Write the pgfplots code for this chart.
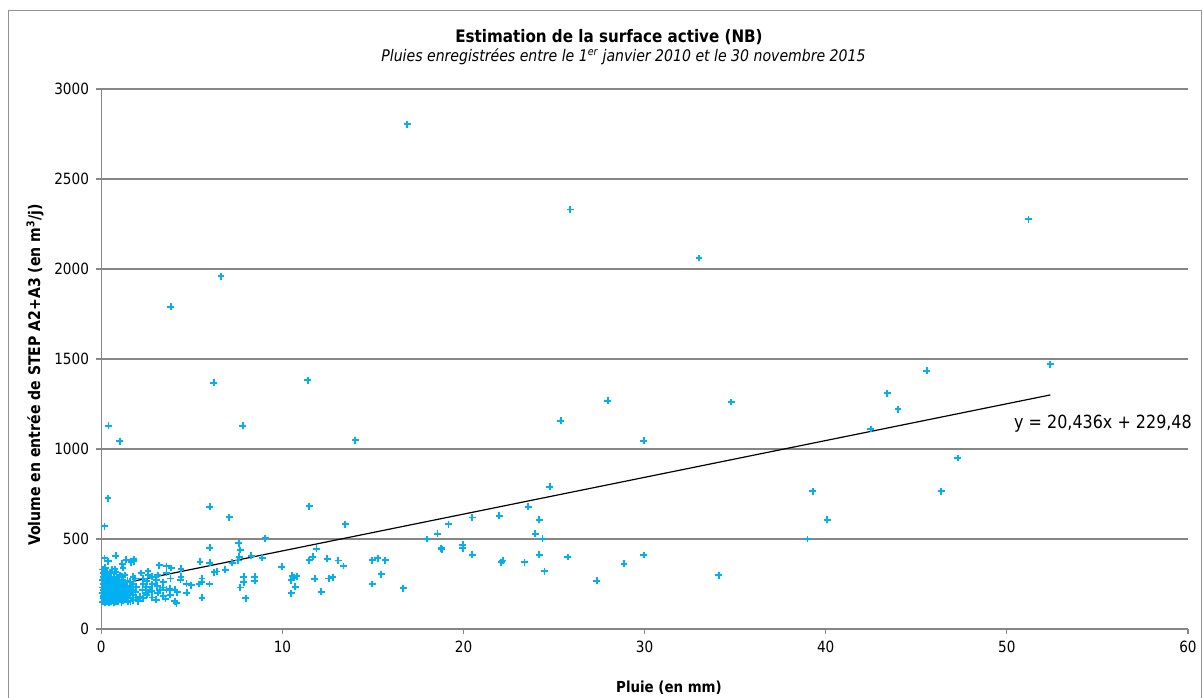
\documentclass[border=0pt]{standalone}
\usepackage{pgfplots}
\pgfplotsset{compat=1.18}
\usepackage{fontspec}
\setmainfont[FakeStretch=0.88]{DejaVu Sans}
\definecolor{ptblue}{RGB}{0,176,240}
\definecolor{gridc}{RGB}{134,134,134}
\begin{document}
\begin{tikzpicture}[x=0.75pt,y=0.75pt]
\useasboundingbox (-101.3,-69) rectangle (1101.7,629);
\draw[gridc!90, line width=0.75pt] (-92.8,-90) rectangle (1100.2,618);
\node[font=\bfseries\fontsize{12.9}{15}\selectfont] at (507.7,592) {Estimation de la surface active (NB)};
\node[font=\itshape\fontsize{12}{14}\selectfont] at (522.2,572) {Pluies enregistrées entre le 1\textsuperscript{er} janvier 2010 et le 30 novembre 2015};
\begin{axis}[
  at={(0,0)}, anchor=south west,
  scale only axis, width=815pt, height=405pt,
  xmin=0, xmax=60, ymin=0, ymax=3000,
  xtick={0,10,...,60}, ytick={0,500,...,3000},
  axis lines=left, axis line style={-, gridc, line width=0.9pt},
  tick align=outside, major tick length=3.75pt,
  tick style={gridc, line width=0.9pt},
  ymajorgrids, major grid style={gridc, line width=0.9pt},
  ticklabel style={font=\fontsize{11.6}{13}\selectfont},
  xticklabel style={yshift=-2pt},
  yticklabel style={xshift=-2pt},
  /pgf/number format/assume math mode=true,
  /pgf/number format/set thousands separator={},
  clip=false,
]
\addplot[only marks, mark=+, mark size=2.6pt, draw=ptblue, mark options={line width=1.35pt, draw=ptblue}] coordinates {
(16.9,2805) (25.9,2330) (33.0,2061) (51.2,2276) (6.61,1959) (3.83,1791)
(6.21,1367) (11.4,1383) (0.40,1129) (1.02,1044) (7.81,1129) (14.02,1048)
(25.38,1156) (27.96,1267) (29.96,1046) (24.77,791) (34.79,1261) (34.09,298)
(38.99,500) (39.28,765) (40.08,606) (42.48,1111) (43.39,1309) (43.99,1220)
(45.58,1435) (46.38,765) (47.29,950) (52.40,1472)
(0.18,572) (0.37,726)
(11.49,683) (13.46,583) (9.06,504) (8.27,407) (8.88,396) (8.47,291) (8.47,267)
(9.96,346) (10.48,272) (10.48,198) (10.70,235) (10.55,296) (10.79,294) (10.62,285)
(11.49,383) (11.67,402) (11.88,446) (11.78,278) (12.15,206) (12.47,391) (12.56,281)
(12.78,287) (13.08,381) (13.37,350) (14.96,383) (15.27,393) (15.67,383) (15.45,304)
(14.96,250) (16.67,226) (17.97,500) (18.56,528) (19.17,583) (18.77,448) (18.80,443)
(19.96,467) (19.96,448) (20.48,619) (20.48,413) (21.97,628) (22.08,370) (22.17,381)
(23.37,370) (23.57,679) (24.18,606) (23.96,528) (24.36,502) (24.18,413) (24.47,322)
(25.76,400) (27.36,267) (28.86,363) (29.96,411)
(5.98,678) (7.07,620) (5.98,452) (7.59,476) (7.68,439) (7.62,402) (7.57,380)
(7.86,291) (7.86,259) (7.68,230) (7.97,172) (5.45,374) (5.98,368) (5.56,281)
(5.56,263) (5.40,250) (5.97,250) (5.56,174) (6.24,315) (6.37,319) (6.85,328)
(7.22,368) (4.96,244) (4.73,202) (4.40,335) (4.40,290) (4.06,218) (4.06,154)
(4.15,144) (4.19,204) (4.37,274) (4.70,252)
(0.18,394) (0.39,376) (0.79,407) (0.74,333) (1.20,339) (1.38,385) (1.66,370)
(1.79,389) (1.79,376) (1.16,363) (2.21,311) (2.58,320) (2.58,302) (3.19,354)
(3.60,348) (3.60,311) (3.87,339) (3.04,274) (3.23,218) (3.60,218) (3.54,167)
(3.04,163) (2.68,218) (2.45,200) (2.12,181) (2.03,154) (1.61,154) (1.57,237) (1.29,218)
(0.08,150) (0.12,170) (0.10,185) (0.07,200) (0.13,215) (0.09,230) (0.11,250)
(0.08,270) (0.12,290) (0.10,310) (0.09,330)
(0.21,145) (0.19,160) (0.23,178) (0.20,195) (0.22,210) (0.18,225) (0.24,240)
(0.21,262) (0.19,280) (0.23,300) (0.20,320) (0.22,340)
(0.31,155) (0.29,172) (0.33,190) (0.30,205) (0.32,222) (0.28,245) (0.31,268) (0.34,295) (0.30,315)
(0.41,148) (0.39,165) (0.43,182) (0.40,200) (0.42,218) (0.38,236) (0.44,255) (0.41,275) (0.39,300)
(0.52,152) (0.49,175) (0.53,195) (0.50,212) (0.48,230) (0.54,250) (0.51,285) (0.49,310)
(0.62,160) (0.59,180) (0.63,198) (0.60,220) (0.58,242) (0.64,265) (0.61,330)
(0.71,145) (0.69,168) (0.73,190) (0.70,210) (0.68,232) (0.72,258) (0.70,290)
(0.82,155) (0.79,178) (0.83,205) (0.80,228) (0.78,250) (0.84,280) (0.81,318)
(0.92,150) (0.89,172) (0.93,196) (0.90,218) (0.88,245) (0.94,275)
(1.02,162) (0.99,185) (1.03,208) (1.00,235) (0.98,262) (1.04,300)
(1.12,148) (1.09,175) (1.13,200) (1.10,225) (1.08,255) (1.14,290)
(1.22,158) (1.19,182) (1.23,210) (1.20,240) (1.18,270)
(1.32,165) (1.29,195) (1.33,222) (1.30,250) (1.31,300)
(1.46,150) (1.44,180) (1.47,205) (1.43,232) (1.45,268)
(1.61,172) (1.59,198) (1.62,225) (1.58,262)
(1.76,160) (1.74,190) (1.77,215) (1.73,248) (1.75,290)
(1.91,175) (1.89,205) (1.92,235) (1.88,280)
(2.31,170) (2.28,215) (2.32,250) (2.29,280)
(2.52,190) (2.49,235) (2.51,265)
(2.81,175) (2.78,210) (2.82,248) (2.79,290)
(3.11,200) (3.09,240) (3.12,300)
(3.41,185) (3.39,230) (3.42,260)
(3.81,190) (3.79,225) (3.82,280)
};
\addplot[black, line width=0.9pt] coordinates {(0.18,233.16) (52.40,1300.33)};
\end{axis}
\node[font=\bfseries\fontsize{11.4}{13}\selectfont] at (567.7,-59) {Pluie (en mm)};
\node[font=\bfseries\fontsize{12}{14}\selectfont, rotate=90] at (-66.3,254) {Volume en entrée de STEP A2+A3 (en m\textsuperscript{3}/j)};
\node[font=\fontsize{13.6}{16}\selectfont] at (1001.7,205) {y = 20,436x + 229,48};
\end{tikzpicture}
\end{document}
